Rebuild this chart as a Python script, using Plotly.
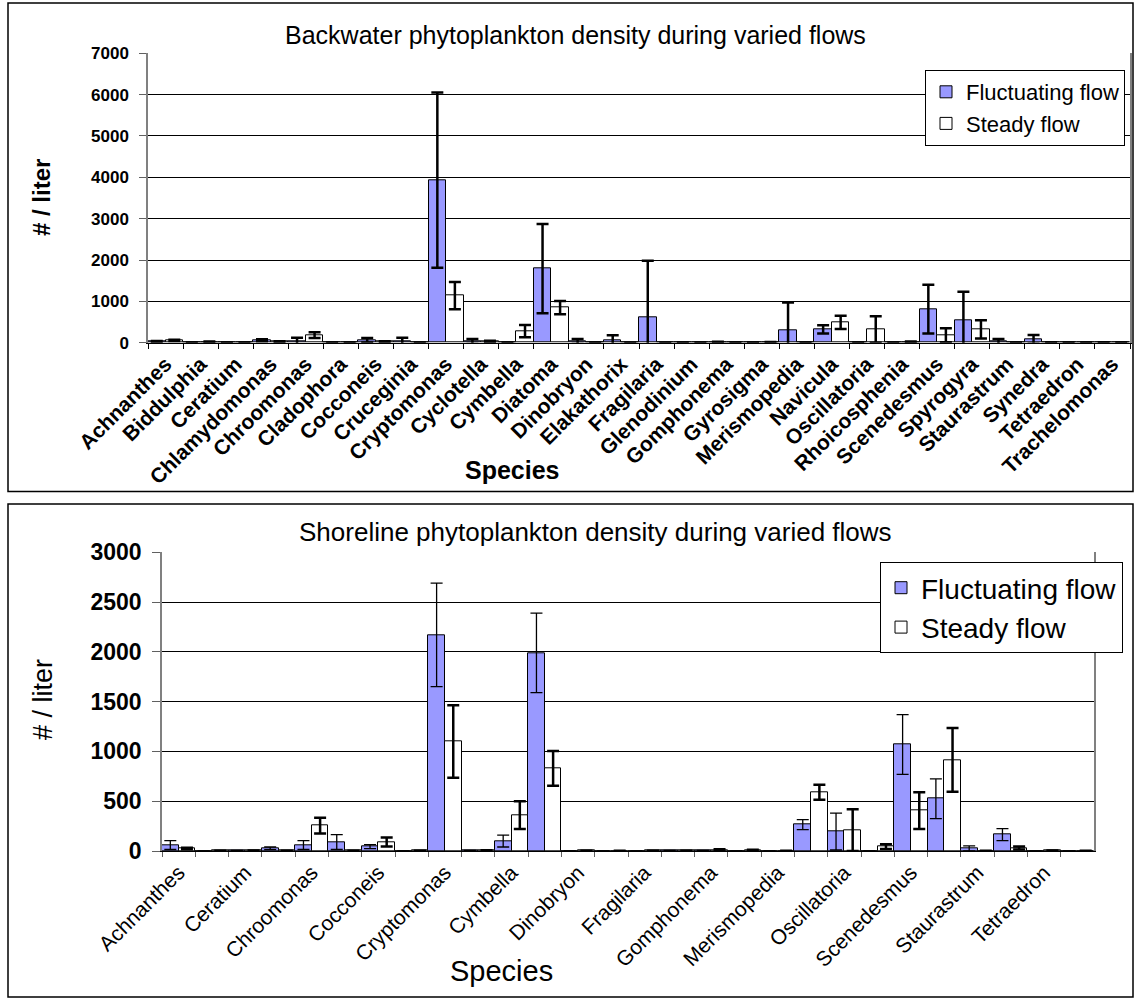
import plotly.graph_objects as go

species = ["Achnanthes", "Biddulphia", "Ceratium", "Chlamydomonas", "Chroomonas",
           "Cladophora", "Cocconeis", "Cruceginia", "Cryptomonas", "Cyclotella",
           "Cymbella", "Diatoma", "Dinobryon", "Elakathorix", "Fragilaria",
           "Glenodinium", "Gomphonema", "Gyrosigma", "Merismopedia", "Navicula",
           "Oscillatoria", "Rhoicosphenia", "Scenedesmus", "Spyrogyra", "Staurastrum",
           "Synedra", "Tetraedron", "Trachelomonas"]

# Backwater (top chart)
bw_fluct = [30, 3, 3, 60, 30, 2, 60, 25, 3930, 30, 5, 1790, 30, 60, 610,
            2, 15, 2, 290, 320, 2, 5, 810, 540, 25, 80, 2, 12]
bw_fluct_err = [10, 0, 0, 25, 90, 0, 55, 95, 2120, 60, 0, 1080, 60, 120, 1370,
                0, 5, 0, 680, 100, 0, 0, 590, 690, 65, 105, 0, 0]
bw_steady = [55, 20, 5, 25, 185, 2, 25, 5, 1140, 30, 280, 850, 5, 0, 0,
             2, 2, 12, 2, 490, 320, 20, 180, 320, 5, 10, 2, 2]
bw_steady_err = [15, 10, 0, 10, 70, 0, 10, 0, 330, 20, 150, 160, 0, 0, 0,
                 0, 0, 5, 0, 160, 320, 10, 170, 220, 0, 0, 0, 0]

# Shoreline (bottom chart)
sh_fluct = [60, 2, 6, 27, 60, 90, 44, 2, 2170, 5, 100, 1990, 2, 2, 2,
            5, 5, 2, 2, 265, 195, 2, 1070, 525, 27, 165, 2, 2]
sh_fluct_err = [45, 0, 0, 13, 45, 75, 20, 0, 520, 0, 60, 400, 0, 0, 0,
                0, 0, 0, 0, 50, 185, 0, 300, 200, 25, 60, 0, 0]
sh_steady = [25, 3, 4, 3, 255, 3, 90, 3, 1100, 8, 360, 830, 3, 2, 3,
             3, 12, 8, 2, 590, 210, 44, 405, 915, 2, 30, 6, 2]
sh_steady_err = [8, 0, 0, 0, 80, 0, 45, 0, 365, 0, 140, 175, 0, 0, 0,
                 0, 6, 4, 0, 75, 210, 25, 185, 320, 0, 15, 0, 0]

sh_ticktext = [s if i % 2 == 0 else "" for i, s in enumerate(species)]

W, H = 1135, 998
FONT = "Liberation Sans, Arial, sans-serif"
FLUCT = "#9999FF"


def px(x):
    return x / W


def py(y):
    return 1 - y / H


fig = go.Figure()

bar_line = dict(color="black", width=1)

fig.add_trace(go.Bar(x=species, y=bw_fluct, name="Fluctuating flow",
                     marker=dict(color=FLUCT, line=bar_line),
                     error_y=dict(type="data", array=bw_fluct_err, color="black",
                                  thickness=2.5, width=6),
                     xaxis="x", yaxis="y", legend="legend"))
fig.add_trace(go.Bar(x=species, y=bw_steady, name="Steady flow",
                     marker=dict(color="white", line=bar_line),
                     error_y=dict(type="data", array=bw_steady_err, color="black",
                                  thickness=2.5, width=6),
                     xaxis="x", yaxis="y", legend="legend"))
fig.add_trace(go.Bar(x=species, y=sh_fluct, name="Fluctuating flow",
                     marker=dict(color=FLUCT, line=bar_line),
                     error_y=dict(type="data", array=sh_fluct_err, color="black",
                                  thickness=1.3, width=6),
                     xaxis="x2", yaxis="y2", legend="legend2"))
fig.add_trace(go.Bar(x=species, y=sh_steady, name="Steady flow",
                     marker=dict(color="white", line=bar_line),
                     error_y=dict(type="data", array=sh_steady_err, color="black",
                                  thickness=2.5, width=6),
                     xaxis="x2", yaxis="y2", legend="legend2"))

fig.update_layout(
    width=W, height=H,
    margin=dict(l=0, r=0, t=0, b=0, pad=0, autoexpand=False),
    paper_bgcolor="white", plot_bgcolor="white",
    barmode="group", bargap=0, bargroupgap=0,
    font=dict(family=FONT, color="black"),
    xaxis=dict(domain=[px(148), px(1130)], anchor="y", type="category",
               range=[-0.5, 27.5], tickson="boundaries", ticks="outside",
               ticklen=5, tickcolor="black", tickangle=-45,
               tickfont=dict(family=FONT, size=21, weight="bold"),
               showline=True, linecolor="black", linewidth=1, showgrid=False,
               automargin=False),
    yaxis=dict(domain=[py(342.7), py(53.3)], anchor="x", range=[0, 7000],
               dtick=1000, ticks="outside", ticklen=7, tickcolor="#606060",
               tickfont=dict(family=FONT, size=17, weight="bold"),
               ticklabelstandoff=7,
               showgrid=True, gridcolor="black", gridwidth=1,
               showline=True, linecolor="#808080", linewidth=1.5, mirror=True,
               zeroline=False, automargin=False),
    xaxis2=dict(domain=[px(162), px(1094)], anchor="y2", type="category",
                range=[-0.5, 27.5], tickson="boundaries", ticks="outside",
                ticklen=5, tickcolor="#606060", tickangle=-45,
                tickmode="array", tickvals=species, ticktext=sh_ticktext,
                tickfont=dict(family=FONT, size=21),
                showline=True, linecolor="black", linewidth=1, showgrid=False,
                automargin=False),
    yaxis2=dict(domain=[py(851), py(552.3)], anchor="x2", range=[0, 3000],
                dtick=500, ticks="outside", ticklen=8, tickcolor="#606060",
                tickfont=dict(family=FONT, size=23, weight="bold"),
                ticklabelstandoff=6,
                showgrid=True, gridcolor="black", gridwidth=1,
                showline=True, linecolor="#808080", linewidth=1.5, mirror=True,
                zeroline=False, automargin=False),
    legend=dict(x=px(1125), y=py(70), xanchor="right", yanchor="top",
                bgcolor="white", bordercolor="black", borderwidth=1,
                font=dict(family=FONT, size=22), tracegroupgap=0),
    legend2=dict(x=px(1123), y=py(562), xanchor="right", yanchor="top",
                 bgcolor="white", bordercolor="black", borderwidth=1,
                 font=dict(family=FONT, size=28), tracegroupgap=0),
    shapes=[
        dict(type="rect", xref="paper", yref="paper",
             x0=px(8), x1=px(1133), y0=py(491.5), y1=py(3),
             line=dict(color="black", width=1.5), layer="above"),
        dict(type="rect", xref="paper", yref="paper",
             x0=px(8), x1=px(1133), y0=py(997), y1=py(504),
             line=dict(color="black", width=1.5), layer="above"),
    ],
    annotations=[
        dict(text="Backwater phytoplankton density during varied flows",
             x=px(575), y=py(35), xref="paper", yref="paper", showarrow=False,
             xanchor="center", yanchor="middle", font=dict(family=FONT, size=25)),
        dict(text="Shoreline phytoplankton density during varied flows",
             x=px(595), y=py(532), xref="paper", yref="paper", showarrow=False,
             xanchor="center", yanchor="middle", font=dict(family=FONT, size=26)),
        dict(text="# / liter", x=px(42), y=py(198), xref="paper", yref="paper",
             showarrow=False, textangle=-90, xanchor="center", yanchor="middle",
             font=dict(family=FONT, size=24, weight="bold")),
        dict(text="# / liter", x=px(43), y=py(700), xref="paper", yref="paper",
             showarrow=False, textangle=-90, xanchor="center", yanchor="middle",
             font=dict(family=FONT, size=27)),
        dict(text="Species", x=px(512), y=py(470), xref="paper", yref="paper",
             showarrow=False, xanchor="center", yanchor="middle",
             font=dict(family=FONT, size=25, weight="bold")),
        dict(text="Species", x=px(501), y=py(971), xref="paper", yref="paper",
             showarrow=False, xanchor="center", yanchor="middle",
             font=dict(family=FONT, size=29)),
    ],
)

fig.write_html("out.html", config={"displayModeBar": False},
               post_script="document.body.style.margin='0';document.body.style.overflow='hidden';")
